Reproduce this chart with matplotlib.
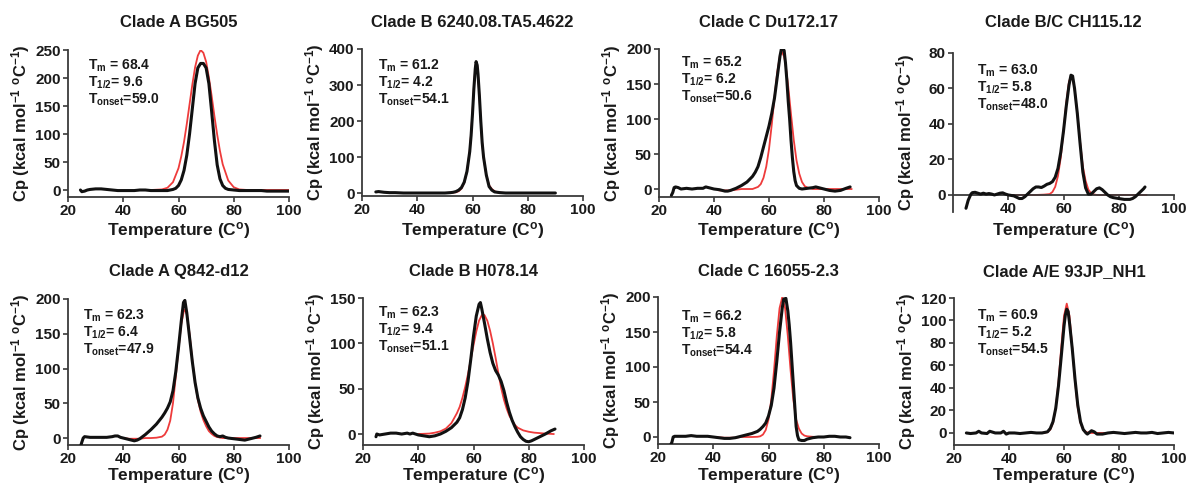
import matplotlib
matplotlib.use('Agg')
import matplotlib.pyplot as plt

plt.rcParams['font.family'] = ['Liberation Sans', 'DejaVu Sans']
plt.rcParams['font.weight'] = 'bold'
plt.rcParams['mathtext.fontset'] = 'custom'
plt.rcParams['mathtext.rm'] = 'Liberation Sans:bold'
plt.rcParams['mathtext.it'] = 'Liberation Sans:bold'
plt.rcParams['mathtext.bf'] = 'Liberation Sans:bold'
plt.rcParams['mathtext.default'] = 'rm'

# ---------------- data ----------------
titles = ["Clade A BG505", "Clade B 6240.08.TA5.4622", "Clade C Du172.17", "Clade B/C CH115.12",
          "Clade A Q842-d12", "Clade B H078.14", "Clade C 16055-2.3", "Clade A/E 93JP_NH1"]
tm_vals = ["68.4", "61.2", "65.2", "63.0", "62.3", "62.3", "66.2", "60.9"]
thalf_vals = ["9.6", "4.2", "6.2", "5.8", "6.4", "9.4", "5.8", "5.2"]
tonset_vals = ["59.0", "54.1", "50.6", "48.0", "47.9", "51.1", "54.4", "54.5"]

# Clade A BG505
bg505_t = [24.5, 25, 26, 27, 28, 30, 32, 34, 36, 38, 40, 42, 44, 46, 48, 50, 52, 54, 56, 57,
           58, 59, 60, 61, 62, 63, 64, 65, 66, 67, 68, 69, 70, 71, 72, 73, 74, 75, 76, 77,
           78, 80, 82, 85, 88, 90, 92, 95, 98, 100]
bg505_cp = [0, -3, -2, 0, 1, 2, 2, 1, 0, -1, -1, -1, -1, 0, 0, -1, -1, -1, -1, 0,
            1, 3, 8, 18, 35, 62, 100, 145, 190, 218, 226, 226, 218, 190, 140, 88, 45, 20, 8, 3,
            1, 0, -1, -1, -1, -1, -2, -2, -2, -2]
bg505_fit_t = [45, 50, 54, 56, 58, 60, 61, 62, 63, 64, 65, 66, 67, 68, 69, 70, 71, 72, 73, 74,
               75, 76, 78, 80, 82, 85, 90, 95, 100]
bg505_fit_cp = [0, 0, 1, 4, 14, 39, 60, 86, 118, 153, 188, 219, 240, 250, 245, 229, 201, 168, 132, 99,
                70, 46, 17, 5, 1, 0, 0, 0, 0]

# Clade B 6240.08.TA5.4622
b6240_t = [25, 26, 27, 28, 30, 32, 35, 38, 40, 45, 50, 52, 53, 54, 55, 56, 57, 58, 59, 59.5,
           60, 60.5, 61, 61.3, 61.7, 62, 62.5, 63, 63.5, 64, 65, 66, 67, 68, 69, 70, 72, 75, 80, 85, 90]
b6240_cp = [3, 4, 3, 2, 1, 1, 0, 0, 0, 0, 0, 1, 2, 4, 8, 15, 30, 60, 115, 160,
            220, 290, 345, 365, 355, 330, 270, 200, 140, 100, 50, 18, 8, 3, 2, 1, 0, 0, 0, 0, 0]
b6240_fit_t = [50, 54, 55, 56, 57, 58, 59, 59.5, 60, 60.5, 61, 61.3, 61.7, 62, 62.5, 63, 63.5, 64, 65, 66,
               67, 68, 69, 70, 72, 75]
b6240_fit_cp = [0, 2, 5, 12, 28, 60, 118, 165, 225, 292, 345, 362, 352, 328, 268, 198, 140, 98, 50, 22,
                11, 5, 2, 1, 0, 0]

# Clade C Du172.17
du172_t = [24.5, 25, 25.5, 26, 27, 28, 30, 32, 34, 36, 37, 38, 40, 42, 44, 45, 46, 48, 50, 52,
           54, 55, 56, 57, 58, 59, 60, 61, 62, 63, 64, 64.5, 65, 65.5, 66, 66.5, 67, 67.5, 68, 68.5,
           69, 69.5, 70, 71, 72, 74, 76, 77, 78, 80, 82, 84, 86, 88, 89.5]
du172_cp = [-9, -5, 2, 3, 2, 0, 1, 0, 1, 1, 3, 2, 0, -1, -3, -3, -2, 1, 5, 10,
            18, 24, 32, 45, 60, 75, 90, 108, 130, 160, 190, 200, 200, 198, 180, 155, 125, 100, 70, 45,
            25, 12, 5, 1, 0, 1, 2, 3, 2, 0, -2, -3, -2, 1, 3]
du172_fit_t = [42, 44, 46, 48, 50, 52, 54, 56, 57, 58, 59, 60, 61, 62, 63, 64, 64.7, 65.5, 66, 67,
               68, 69, 70, 71, 72, 73, 74, 76, 80, 85, 90]
du172_fit_cp = [-2, -2, -2, -1, 0, 0, 0, 3, 7, 16, 32, 57, 92, 131, 167, 191, 196, 189, 179, 146,
                107, 70, 41, 22, 10, 4, 2, 0, 0, 0, 0]

# Clade B/C CH115.12
ch115_t = [24.7, 25.5, 26.5, 27, 28, 29, 30, 31, 32, 33, 34, 35, 36, 37, 38, 39, 40, 42, 44, 45,
           46, 47, 48, 49, 50, 51, 52, 53, 54, 55, 56, 57, 58, 59, 60, 61, 62, 62.7, 63.3, 64,
           65, 66, 67, 68, 69, 70, 71, 72, 73, 74, 75, 76, 77, 78, 80, 82, 84, 85, 86, 87,
           88, 89, 89.5]
ch115_cp = [-7.5, -3, 0.5, 1.3, 1.5, 1, 0.5, 1, 0.5, 0.8, 0.5, 0, 0.5, 1, 1.2, 0.5, 0, -0.5, -2, -2,
            -1, 0.5, 2, 3.5, 4.5, 4.5, 4.2, 5, 6, 6.5, 7.5, 10, 15, 24, 36, 50, 62, 67.5, 67, 60,
            46, 29, 13, 4, 0.5, 0.5, 2, 3.5, 4, 3, 1.5, 0, -1, -1.5, -2, -2.5, -2.5, -2, -1, 0.5,
            2, 3.5, 4.5]
ch115_fit_t = [40, 45, 50, 53, 55, 56, 57, 58, 59, 60, 61, 62, 62.8, 63.5, 64, 65, 66, 67, 68, 69,
               70, 71, 72, 75, 80, 85, 90]
ch115_fit_cp = [0, 0, 0, 0.2, 0.5, 1.7, 4.6, 10.7, 21, 36, 52, 64, 67, 64, 60, 46, 30, 16, 8, 3,
                1, 0.3, 0, 0, 0, 0, 0]

# Clade A Q842-d12
q842_t = [24.7, 25, 25.5, 26, 28, 30, 32, 34, 36, 37, 38, 39, 40, 42, 44, 45, 46, 47, 48, 50,
          52, 54, 55, 56, 57, 58, 59, 60, 61, 61.8, 62.3, 63, 64, 65, 66, 67, 68, 69, 70, 71,
          72, 73, 74, 75, 76, 77, 78, 80, 82, 84, 86, 88, 89.5]
q842_cp = [-10, -6, 0, 2, 1, 1, 1, 1, 2, 3, 3, 1, 0, -2, -4, -3, -1, 2, 5, 12,
           20, 30, 36, 43, 52, 68, 95, 130, 168, 195, 198, 180, 145, 110, 80, 58, 43, 32, 24, 16,
           10, 6, 3, 2, 3, 1, 0, -1, -2, -3, -1, 1, 3]
q842_fit_t = [40, 42, 44, 46, 48, 50, 52, 54, 55, 56, 57, 58, 59, 60, 61, 62, 62.3, 63, 64, 65,
              66, 67, 68, 69, 70, 71, 72, 73, 74, 76, 80, 85, 89.5]
q842_fit_cp = [0, -1, -1, -1, 0, 0, 0.5, 2, 5, 12, 25, 50, 88, 128, 164, 184, 185, 178, 150, 112,
               80, 55, 38, 26, 17, 10, 6, 3, 1.5, 0, 0, 0, 0]

# Clade B H078.14
h078_t = [24.7, 25, 26, 28, 30, 32, 34, 36, 37, 38, 40, 42, 44, 46, 48, 50, 52, 54, 55, 56,
          57, 58, 59, 60, 61, 62, 62.5, 63, 64, 65, 66, 67, 68, 69, 70, 71, 72, 73, 74, 75,
          76, 77, 78, 79, 80, 81, 82, 84, 86, 88, 89.5]
h078_cp = [-3, 0, -1, 0, 1, 1, 0, 1, 0, 1, -1, -2, -3, -2, 0, 3, 7, 13, 18, 27,
           40, 58, 82, 108, 130, 143, 145, 138, 122, 105, 90, 78, 70, 65, 58, 48, 35, 24, 15, 8,
           2, -3, -6, -8, -8.5, -7.5, -6, -3, 0, 3.5, 5.5]
h078_fit_t = [40, 44, 46, 48, 50, 52, 54, 55, 56, 57, 58, 59, 60, 61, 62, 63, 63.5, 64, 65, 66,
              67, 68, 69, 70, 71, 72, 73, 74, 75, 76, 78, 80, 82, 84, 86, 89]
h078_fit_cp = [0, 0.5, 1.5, 3, 6, 12, 23, 30, 40, 52, 66, 82, 98, 113, 125, 131, 132, 131, 125, 114,
               100, 84, 67, 51, 38, 28, 20, 15, 10, 7, 4, 2.5, 1.5, 1, 0.5, 0]

# Clade C 16055-2.3
c16055_t = [24.7, 25, 25.5, 26, 28, 30, 32, 34, 36, 38, 40, 42, 44, 46, 48, 50, 52, 54, 56, 57,
            58, 59, 60, 61, 62, 63, 64, 65, 65.5, 66.3, 67, 67.5, 68, 68.5, 69, 69.5, 70, 70.5, 71, 72,
            73, 74, 75, 76, 78, 80, 82, 84, 86, 88, 89.5]
c16055_cp = [-10, -8, 0, 1, 1, 1, 2, 1, 1, 1, 0, -1, -2, -2, -1, 1, 3, 5, 8, 11,
             15, 20, 30, 45, 70, 108, 150, 185, 197, 198, 180, 160, 135, 105, 75, 45, 15, 2, -4, -5,
             -5, -3, -2, -1, 0, 0, 1, 1, 0, 0, -1]
c16055_fit_t = [40, 44, 46, 48, 50, 54, 56, 57, 58, 59, 60, 61, 62, 63, 64, 65, 66, 67, 68, 69,
                70, 71, 72, 73, 74, 76, 78]
c16055_fit_cp = [0, -1, -1, -1, 0, 0, 0.3, 1, 3.5, 10, 25, 53, 95, 144, 184, 200, 184, 144, 95, 53,
                 25, 12, 5, 2, 1, 0.3, 0]

# Clade A/E 93JP_NH1
jp93_t = [24.5, 26, 28, 29, 30, 32, 33, 35, 37, 38, 39, 40, 42, 44, 46, 48, 50, 52, 54, 55,
          56, 57, 58, 59, 60, 60.5, 61, 61.5, 62, 63, 64, 65, 66, 67, 68, 68.5, 69, 70, 71, 72,
          74, 76, 78, 80, 82, 84, 86, 88, 90, 92, 94, 96, 98, 100]
jp93_cp = [0, -0.5, 0, 1.5, 0, -0.5, 1.5, 0, 0, 1.5, -1, 0, 0, -0.5, 0, 0.5, 0, 0, 1, 4,
           10, 22, 42, 68, 95, 105, 110, 108, 98, 75, 48, 25, 10, 3, 0, -1, 0, 2, 1, -1,
           -1, 0, 0.5, 0, -0.5, 0, 0.5, 0, 0, 0.5, -0.5, 0, 0.5, 0]
jp93_fit_t = [45, 50, 53, 54, 55, 56, 57, 58, 59, 60, 61, 62, 63, 64, 65, 66, 67, 68, 69, 70,
              72, 75, 80]
jp93_fit_cp = [0, 0, 0.2, 0.8, 2.9, 8.9, 22.4, 45.8, 76, 104, 115, 104, 76, 46, 22.4, 8.9, 2.9, 0.8, 0.2, 0,
               0, 0, 0]

data_t = [bg505_t, b6240_t, du172_t, ch115_t, q842_t, h078_t, c16055_t, jp93_t]
data_cp = [bg505_cp, b6240_cp, du172_cp, ch115_cp, q842_cp, h078_cp, c16055_cp, jp93_cp]
fit_t = [bg505_fit_t, b6240_fit_t, du172_fit_t, ch115_fit_t, q842_fit_t, h078_fit_t, c16055_fit_t, jp93_fit_t]
fit_cp = [bg505_fit_cp, b6240_fit_cp, du172_fit_cp, ch115_fit_cp, q842_fit_cp, h078_fit_cp, c16055_fit_cp, jp93_fit_cp]

y_ticks = [[0, 50, 100, 150, 200, 250], [0, 100, 200, 300, 400], [0, 50, 100, 150, 200],
           [0, 20, 40, 60, 80], [0, 50, 100, 150, 200], [0, 50, 100, 150],
           [0, 50, 100, 150, 200], [0, 20, 40, 60, 80, 100, 120]]
x_ticks = [20, 40, 60, 80, 100]

# ---------------- layout (pixels) ----------------
W, H = 1190, 491
rects = [(68, 50, 289, 197), (362, 49, 583, 196), (659, 49, 879, 197), (953, 53, 1174, 212),
         (68, 299, 289, 445), (363, 298, 584, 445), (658, 297, 879, 444), (954, 298, 1174, 445)]
y_bottoms = [-12.5, -8.3, -11.4, -9.6, -10, -12.1, -10, -10.7]
text_pos = [(88, 70), (378, 70), (681, 67), (977, 75),
            (83, 320), (378, 317), (681, 321), (977, 320)]

fig = plt.figure(figsize=(W / 100, H / 100), dpi=100)

def fx(px):
    return px / W

def fy(py):
    return 1 - py / H

TXT = '#1a1a1a'
AX = '#3a3a3a'
RED = '#ee3b3b'

for i in range(8):
    l, t, r, b = rects[i]
    ax = fig.add_axes([fx(l), fy(b), fx(r) - fx(l), fy(t) - fy(b)])
    ax.plot(fit_t[i], fit_cp[i], color=RED, lw=1.3, zorder=2)
    ax.plot(data_t[i], data_cp[i], color='#111111', lw=2.2, zorder=3,
            solid_joinstyle='round', solid_capstyle='round')
    ax.set_xlim(20, 100)
    ax.set_ylim(y_bottoms[i], y_ticks[i][-1])
    ax.set_yticks(y_ticks[i])
    if i == 3:
        ax.set_xticks([40, 60, 80, 100])
        ax.spines['bottom'].set_position(('data', 0))
    else:
        ax.set_xticks(x_ticks)
    for s in ['top', 'right']:
        ax.spines[s].set_visible(False)
    for s in ['left', 'bottom']:
        ax.spines[s].set_color(AX)
        ax.spines[s].set_linewidth(1.3)
    ax.tick_params(direction='out', length=3.8, width=1.2, color=AX, pad=1.5,
                   labelsize=11, labelcolor=TXT)
    for lab in ax.get_xticklabels() + ax.get_yticklabels():
        lab.set_fontweight('bold')
    ax.patch.set_alpha(0)

    cx = (l + r) / 2
    ty = 27 if i < 4 else 276
    fig.text(fx(cx), fy(ty), titles[i], ha='center', va='baseline',
             fontsize=12, fontweight='bold', color=TXT)
    xy = 235 if i < 4 else 480
    fig.text(fx(cx), fy(xy), r"Temperature (C$^{\mathrm{o}}$)", ha='center', va='baseline',
             fontsize=12.5, fontweight='bold', color=TXT)
    fig.text(fx(l - 47), fy((t + b) / 2), r"Cp (kcal mol$^{\mathrm{-1}}$ $^{\mathrm{o}}$C$^{\mathrm{-1}}$)",
             ha='center', va='center', rotation=90, fontsize=12, fontweight='bold', color=TXT)

    tx, tyb = text_pos[i]
    lines = [r"T$_{\mathrm{m}}$ = " + tm_vals[i],
             r"T$_{\mathrm{1/2}}$= " + thalf_vals[i],
             r"T$_{\mathrm{onset}}$=" + tonset_vals[i]]
    for k, s in enumerate(lines):
        fig.text(fx(tx), fy(tyb + 17 * k), s, ha='left', va='baseline',
                 fontsize=10, fontweight='bold', color=TXT)

fig.savefig('out.png', dpi=100)
